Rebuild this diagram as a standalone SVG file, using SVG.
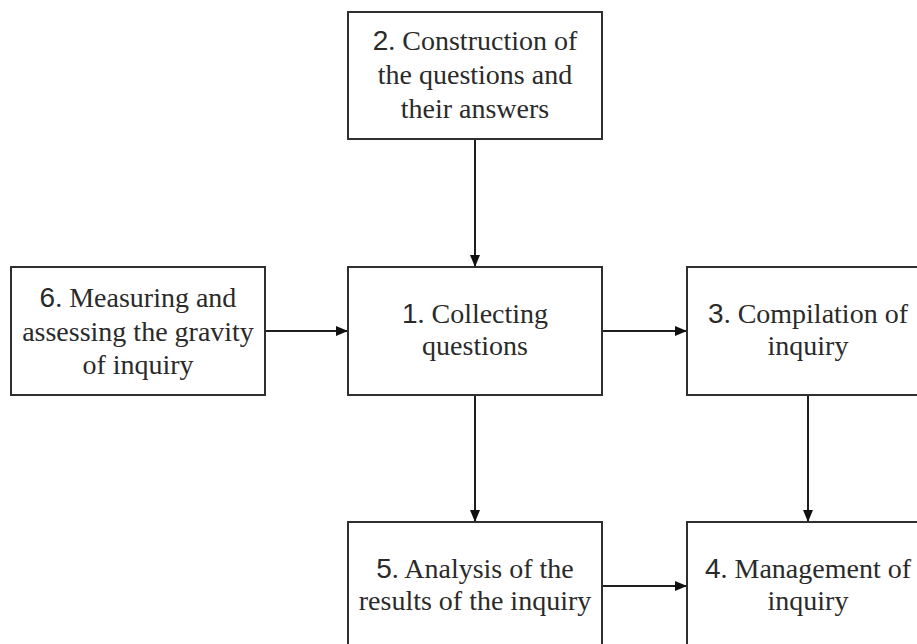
<svg xmlns="http://www.w3.org/2000/svg" width="917" height="644" viewBox="0 0 917 644">
  <style>
    .box { fill: #ffffff; stroke: #2f2f2f; stroke-width: 2; }
    .lbl { font-family: "Liberation Serif", "Times New Roman", serif; font-size: 28px; fill: #2a2a2a; text-anchor: middle; }
    .num { font-family: "Liberation Sans", Arial, sans-serif; }
    .wire { stroke: #1e1e1e; stroke-width: 2; fill: none; marker-end: url(#head); }
  </style>
  <defs>
    <marker id="head" viewBox="0 0 12 10" refX="12" refY="5" markerWidth="12" markerHeight="10" markerUnits="userSpaceOnUse" orient="auto">
      <path d="M0,0 L12,5 L0,10 Z" fill="#111111"/>
    </marker>
  </defs>
  <rect width="917" height="644" fill="#ffffff"/>

  <g id="connectors">
    <line class="wire" x1="475" y1="139" x2="475" y2="267"/>
    <line class="wire" x1="265" y1="331" x2="348" y2="331"/>
    <line class="wire" x1="602" y1="331" x2="687" y2="331"/>
    <line class="wire" x1="475" y1="395" x2="475" y2="522"/>
    <line class="wire" x1="808" y1="395" x2="808" y2="522"/>
    <line class="wire" x1="602" y1="586" x2="687" y2="586"/>
  </g>

  <g id="node-2">
    <rect class="box" x="348" y="12" width="254" height="127"/>
    <text class="lbl" x="475" y="50"><tspan class="num">2</tspan>. Construction of</text>
    <text class="lbl" x="475" y="84">the questions and</text>
    <text class="lbl" x="475" y="118">their answers</text>
  </g>

  <g id="node-6">
    <rect class="box" x="11" y="267" width="254" height="128"/>
    <text class="lbl" x="138" y="307"><tspan class="num">6</tspan>. Measuring and</text>
    <text class="lbl" x="138" y="341">assessing the gravity</text>
    <text class="lbl" x="138" y="374">of inquiry</text>
  </g>

  <g id="node-1">
    <rect class="box" x="348" y="267" width="254" height="128"/>
    <text class="lbl" x="475" y="323"><tspan class="num">1</tspan>. Collecting</text>
    <text class="lbl" x="475" y="355">questions</text>
  </g>

  <g id="node-3">
    <rect class="box" x="687" y="267" width="254" height="128"/>
    <text class="lbl" x="808" y="323"><tspan class="num">3</tspan>. Compilation of</text>
    <text class="lbl" x="808" y="355">inquiry</text>
  </g>

  <g id="node-5">
    <rect class="box" x="348" y="522" width="254" height="128"/>
    <text class="lbl" x="475" y="578"><tspan class="num">5</tspan>. Analysis of the</text>
    <text class="lbl" x="475" y="610">results of the inquiry</text>
  </g>

  <g id="node-4">
    <rect class="box" x="687" y="522" width="254" height="128"/>
    <text class="lbl" x="808" y="578"><tspan class="num">4</tspan>. Management of</text>
    <text class="lbl" x="808" y="610">inquiry</text>
  </g>
</svg>
